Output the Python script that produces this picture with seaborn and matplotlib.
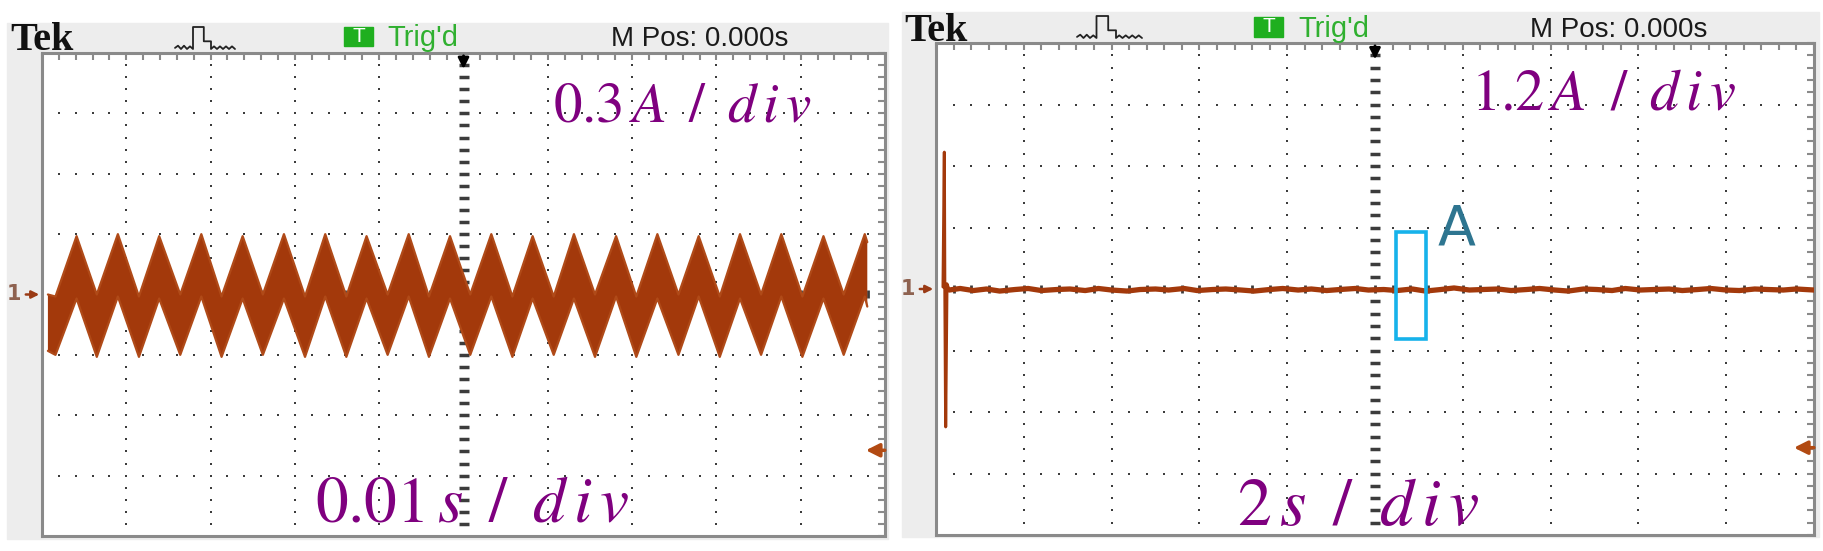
import numpy as np
import matplotlib

matplotlib.use("Agg")

import matplotlib.pyplot as plt
import seaborn as sns
from matplotlib.lines import Line2D
from matplotlib.patches import Rectangle

W, H = 1824, 551

# left capture: 0.01 s/div, 0.3 A/div  (time in ms, current in A)
LEFT_MS_PER_DIV = 10
LEFT_A_PER_DIV = 0.3
left_peak_ms = [4.1, 9.0, 13.9, 18.9, 23.8, 28.7, 33.6, 38.5, 43.5, 48.4,
                53.3, 58.2, 63.1, 68.1, 73.0, 77.9, 82.8, 87.7, 92.7, 97.6]
left_valley_ms = [1.6, 6.5, 11.5, 16.4, 21.3, 26.2, 31.2, 36.1, 41.0, 45.9,
                  50.8, 55.8, 60.7, 65.6, 70.5, 75.5, 80.4, 85.3, 90.2, 95.1]
left_upper_peak = [0.29, 0.30, 0.29, 0.30, 0.29, 0.30, 0.30, 0.29, 0.30, 0.29,
                   0.30, 0.29, 0.30, 0.29, 0.30, 0.29, 0.30, 0.30, 0.29, 0.30]
left_upper_valley = [-0.01, 0.00, -0.01, 0.00, -0.01, 0.00, -0.01, -0.01, 0.00, -0.01,
                     0.00, -0.01, -0.01, 0.00, -0.01, 0.00, -0.01, 0.00, -0.01, 0.00]
left_lower_peak = [-0.02, -0.01, -0.02, -0.01, -0.02, -0.02, -0.01, -0.02, -0.01, -0.02,
                   -0.01, -0.02, -0.02, -0.01, -0.02, -0.01, -0.02, -0.01, -0.02, -0.01]
left_lower_valley = [-0.30, -0.31, -0.31, -0.30, -0.31, -0.30, -0.31, -0.31, -0.30, -0.31,
                     -0.30, -0.31, -0.30, -0.31, -0.31, -0.30, -0.31, -0.30, -0.31, -0.30]
left_start_ms, left_end_ms = 0.7, 97.9
left_start_band = (0.0, -0.28)
left_end_band = (0.26, -0.06)

# right capture: 2 s/div, 1.2 A/div  (time in s, current in A)
RIGHT_S_PER_DIV = 2
RIGHT_A_PER_DIV = 1.2
right_spike_s = [0.16, 0.19, 0.20, 0.22, 0.25, 0.30]
right_spike_a = [0.04, 2.67, 0.20, -2.69, 0.10, -0.02]
right_s = [0.30, 0.55, 0.85, 1.15, 1.45, 1.80, 2.10, 2.40, 2.75, 3.05,
           3.40, 3.70, 4.00, 4.35, 4.65, 5.00, 5.30, 5.65, 5.95, 6.30,
           6.60, 6.95, 7.25, 7.60, 7.90, 8.25, 8.55, 8.90, 9.20, 9.55,
           9.85, 10.20, 10.50, 10.85, 11.15, 11.50, 11.80, 12.15, 12.45, 12.80,
           13.10, 13.45, 13.75, 14.10, 14.40, 14.75, 15.05, 15.40, 15.70, 16.05,
           16.35, 16.70, 17.00, 17.35, 17.65, 18.00, 18.30, 18.65, 18.95, 19.30,
           19.60, 20.00]
right_a = [-0.02, 0.01, -0.03, 0.00, -0.04, -0.01, 0.01, -0.03, -0.01, 0.00,
           -0.03, 0.01, -0.02, -0.04, -0.01, 0.00, -0.02, 0.01, -0.03, -0.01,
           0.00, -0.02, -0.04, -0.01, 0.01, -0.02, 0.00, -0.03, -0.01, 0.01,
           -0.02, -0.01, -0.03, 0.00, -0.04, -0.01, 0.02, -0.02, -0.01, 0.00,
           -0.03, -0.01, 0.01, -0.02, -0.04, 0.00, -0.01, -0.03, 0.01, -0.02,
           -0.01, 0.00, -0.03, -0.01, 0.01, -0.02, -0.03, 0.00, -0.01, -0.02,
           0.00, -0.02]
zoom_box_s = (10.47, 11.17)
zoom_box_a = (-0.98, 1.11)

TRACE = "#A3390B"
PURPLE = "#7F007F"
GRID = "#3c3c3c"
FRAME = "#8a8a8a"
PANEL = "#EDEDED"


def fx(x):
    return x / W


def fy(y):
    return 1 - y / H


def scope_axes(fig, left, top, right, bottom):
    return fig.add_axes([fx(left), fy(bottom), (right - left) / W, (bottom - top) / H])


def draw_graticule(ax, xs, ys):
    xminor = np.linspace(0, 10, 51)
    yminor = np.linspace(-4, 4, 41)
    for row in [-3, -2, -1, 1, 2, 3]:
        ax.plot(xminor[1:-1] * xs, np.full(49, row) * ys, ls="none", marker="s",
                ms=2.1, mew=0, color=GRID, zorder=1)
    for col in [1, 2, 3, 4, 6, 7, 8, 9]:
        ax.plot(np.full(39, col) * xs, yminor[1:-1] * ys, ls="none", marker="s",
                ms=2.1, mew=0, color=GRID, zorder=1)
    ax.plot(np.full(39, 5) * xs, yminor[1:-1] * ys, ls="none", marker="_",
            ms=7.5, mew=2.5, color=GRID, zorder=1)
    ax.plot(xminor[1:-1] * xs, np.zeros(49), ls="none", marker="|",
            ms=6, mew=2, color=GRID, zorder=1)

    ax.set_xlim(0, 10 * xs)
    ax.set_ylim(-4 * ys, 4 * ys)
    ax.set_xticks(xminor * xs)
    ax.set_yticks(yminor * ys)
    ax.tick_params(direction="in", length=5, width=1.5, colors=FRAME,
                   top=True, right=True, labelbottom=False, labelleft=False)
    for spine in ax.spines.values():
        spine.set_color(FRAME)
        spine.set_linewidth(2.2)
    ax.set_facecolor("white")

    # trigger position / level / channel markers
    ax.annotate("", xy=(5 * xs, 3.69 * ys), xytext=(5 * xs, 4.0 * ys),
                arrowprops=dict(arrowstyle="-|>", color="black", lw=2, mutation_scale=16),
                annotation_clip=False)
    ax.annotate("", xy=(9.74 * xs, -2.58 * ys), xytext=(10.03 * xs, -2.58 * ys),
                arrowprops=dict(arrowstyle="-|>", color="#B24A12", lw=2.5, mutation_scale=20),
                annotation_clip=False)
    ax.annotate("", xy=(0, 0), xytext=(-19, 0), textcoords="offset pixels",
                arrowprops=dict(arrowstyle="-|>", color="#9A3A14", lw=1.8, mutation_scale=11),
                annotation_clip=False)
    ax.annotate("1", xy=(0, 0), xytext=(-28, 0), textcoords="offset pixels",
                ha="center", va="center", fontsize=15, color="#8E6250",
                fontweight="bold", annotation_clip=False)


def draw_header(fig, tek_x, tek_base, pulse, tbox, trig_x, mpos_x, base):
    fig.text(fx(tek_x), fy(tek_base), "Tek", fontsize=29, fontweight="bold",
             family="Liberation Serif", color="#111111", va="baseline")
    px0, py0, px1, py1 = pulse
    u = np.array([0, .05, .1, .15, .2, .25, .3, .3, .48, .48, .6, .6, .65, .7, .75, .8, .85, .9, .95, 1])
    v = np.array([.05, .15, 0, .15, 0, .12, 0, 1, 1, .35, .35, 0, .12, 0, .12, 0, .12, 0, .12, 0])
    fig.add_artist(Line2D(fx(px0 + u * (px1 - px0)), fy(py1 - v * (py1 - py0)),
                          color="#222222", lw=1.3))
    bx0, by0, bx1, by1 = tbox
    fig.add_artist(Rectangle((fx(bx0), fy(by1)), (bx1 - bx0) / W, (by1 - by0) / H,
                             transform=fig.transFigure, color="#1FAF1F"))
    fig.text(fx((bx0 + bx1) / 2), fy((by0 + by1) / 2), "T", color="white",
             fontsize=15, ha="center", va="center", family="Liberation Sans")
    fig.text(fx(trig_x), fy(base), "Trig'd", color="#30B030", fontsize=21,
             family="Liberation Sans", va="baseline")
    fig.text(fx(mpos_x), fy(base), "M Pos: 0.000s", color="#1a1a1a", fontsize=20,
             family="Liberation Sans", va="baseline")


sns.set_style("white")
plt.rcParams["mathtext.fontset"] = "stix"
plt.rcParams["font.family"] = ["DejaVu Sans"]

fig = plt.figure(figsize=(W / 100, H / 100), dpi=100)
fig.patch.set_facecolor("white")
fig.add_artist(Rectangle((fx(7), fy(539)), 881 / W, 516 / H, transform=fig.transFigure,
                         color=PANEL, zorder=0))
fig.add_artist(Rectangle((fx(902), fy(537)), 917 / W, 525 / H, transform=fig.transFigure,
                         color=PANEL, zorder=0))

# ---- left: steady-state current ----
ax1 = scope_axes(fig, 42, 53, 885, 536)
draw_graticule(ax1, LEFT_MS_PER_DIV, LEFT_A_PER_DIV)

band_t = np.column_stack([left_valley_ms, left_peak_ms]).ravel()
upper = np.column_stack([left_upper_valley, left_upper_peak]).ravel()
lower = np.column_stack([left_lower_valley, left_lower_peak]).ravel()
band_t = np.concatenate([[left_start_ms], band_t, [left_end_ms]])
upper = np.concatenate([[left_start_band[0]], upper, [left_end_band[0]]])
lower = np.concatenate([[left_start_band[1]], lower, [left_end_band[1]]])
ax1.fill(np.concatenate([band_t, band_t[::-1]]), np.concatenate([upper, lower[::-1]]),
         color=TRACE, lw=0, zorder=3)
sns.lineplot(x=band_t, y=upper, ax=ax1, color="#B04A18", lw=1.6, sort=False,
             estimator=None, legend=False, zorder=3)
sns.lineplot(x=band_t, y=lower, ax=ax1, color="#B04A18", lw=1.6, sort=False,
             estimator=None, legend=False, zorder=3)

# ---- right: start-up transient ----
ax2 = scope_axes(fig, 936, 43, 1814, 535)
draw_graticule(ax2, RIGHT_S_PER_DIV, RIGHT_A_PER_DIV)
sns.lineplot(x=right_spike_s, y=right_spike_a, ax=ax2, color=TRACE, lw=2.2, sort=False,
             estimator=None, legend=False, zorder=3)
sns.lineplot(x=right_s, y=right_a, ax=ax2, color=TRACE, lw=3.8, sort=False,
             estimator=None, legend=False, zorder=3)
ax2.add_patch(Rectangle((zoom_box_s[0], zoom_box_a[0]), zoom_box_s[1] - zoom_box_s[0],
                        zoom_box_a[1] - zoom_box_a[0], fill=False, edgecolor="#16B2EA",
                        lw=2.6, zorder=4))
ax2.text(11.85, 0.86, "A", color="#2E7590", fontsize=40, ha="center", va="baseline",
         fontweight="medium", zorder=4)

# ---- headers and scale labels ----
draw_header(fig, 10, 50, (175, 27, 235, 49), (344, 27, 373, 46), 387, 611, 46)
draw_header(fig, 904, 41, (1077, 16, 1142, 38), (1254, 17, 1283, 37), 1298, 1530, 37)

fig.text(fx(682), fy(122), r"$0.3\,A\;\;/\;\;d\,i\,v$", color=PURPLE, fontsize=41,
         ha="center", va="baseline")
fig.text(fx(1604), fy(110), r"$1.2\,A\;\;/\;\;d\,i\,v$", color=PURPLE, fontsize=42,
         ha="center", va="baseline")
fig.text(fx(472), fy(522), r"$0.01\,s\;\;/\;\;d\,i\,v$", color=PURPLE, fontsize=47,
         ha="center", va="baseline")
fig.text(fx(1358), fy(525), r"$2\,s\;\;/\;\;d\,i\,v$", color=PURPLE, fontsize=49,
         ha="center", va="baseline")

fig.savefig("out.png", dpi=100)
plt.close(fig)
